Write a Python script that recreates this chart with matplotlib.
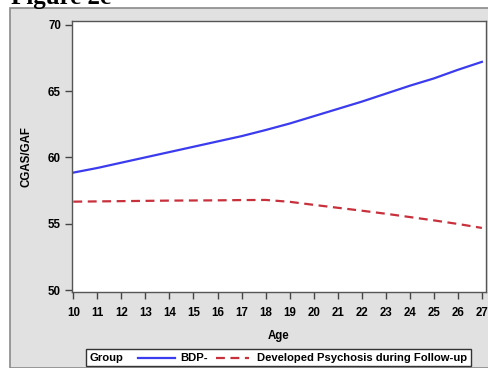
import matplotlib
matplotlib.use("Agg")
import matplotlib.pyplot as plt
from matplotlib.patches import Rectangle
from matplotlib.lines import Line2D

# values
ages = [10, 11, 12, 13, 14, 15, 16, 17, 18, 19, 20, 21, 22, 23, 24, 25, 26, 27]
bdp_neg = [58.85, 59.2, 59.6, 60.0, 60.4, 60.8, 61.2, 61.6, 62.06, 62.55,
           63.1, 63.65, 64.2, 64.8, 65.4, 65.95, 66.6, 67.2]
psychosis = [56.66, 56.68, 56.7, 56.72, 56.74, 56.75, 56.76, 56.78, 56.79, 56.65,
             56.42, 56.2, 55.98, 55.75, 55.5, 55.25, 54.98, 54.68]
yticks = [50, 55, 60, 65, 70]

W, H = 488, 368
fig = plt.figure(figsize=(W / 100, H / 100), dpi=100)
fig.patch.set_facecolor("white")

def fx(px):
    return px / W

def fy(py):
    return 1 - py / H

# grey SAS panel, clipped by the figure edge
panel = Rectangle((fx(10), 0), 1, fy(8), transform=fig.transFigure,
                  facecolor="#e1e1e1", edgecolor="#8a8a8a", lw=1.2, zorder=-10)
fig.patches.append(panel)

fig.text(fx(11), fy(4), "Figure 2c", family="Liberation Serif",
         weight="bold", fontsize=18, va="baseline", ha="left")

ax = fig.add_axes([fx(72), fy(292), fx(486) - fx(72), fy(21) - fy(292)])
ax.set_facecolor("white")
ax.plot(ages, bdp_neg, color="#3b3bf0", lw=1.6)
ax.plot(ages, psychosis, color="#c8303c", lw=1.6, dashes=(4, 2.5))

ax.set_xlim(9.945, 27.17)
ax.set_ylim(49.85, 70.28)
ax.set_xticks(ages)
ax.set_yticks(yticks)
for s in ax.spines.values():
    s.set_color("#555555")
    s.set_linewidth(1.0)
ax.tick_params(direction="out", length=5, width=1, color="#444444",
               labelsize=8.3, pad=3)
for lab in ax.get_xticklabels() + ax.get_yticklabels():
    lab.set_family("Liberation Sans")
    lab.set_weight("bold")
ax.tick_params(axis="x", pad=6)

ax.set_xlabel("Age", family="Liberation Sans", weight="bold", fontsize=8.3,
              labelpad=8)
fig.text(fx(27), fy(157), "CGAS/GAF", family="Liberation Sans", weight="bold",
         fontsize=8.3, rotation=90, ha="center", va="center")

# legend box
leg = Rectangle((fx(86), fy(366)), fx(471) - fx(86), fy(349) - fy(366),
                transform=fig.transFigure, facecolor="white",
                edgecolor="#333333", lw=1.0, zorder=3)
fig.patches.append(leg)
ly = fy(358)
tkw = dict(family="Liberation Sans", weight="bold", fontsize=8.1,
           va="center", ha="left", zorder=4)
fig.text(fx(90), ly, "Group", **tkw)
fig.lines.append(Line2D([fx(138), fx(175)], [ly, ly], transform=fig.transFigure,
                        color="#3b3bf0", lw=1.6, zorder=4))
fig.text(fx(180), ly, "BDP-", **tkw)
fig.lines.append(Line2D([fx(216), fx(249)], [ly, ly], transform=fig.transFigure,
                        color="#c8303c", lw=1.6, dashes=(4, 2.5), zorder=4))
fig.text(fx(257), ly, "Developed Psychosis during Follow-up", **tkw)

fig.savefig("out.png", dpi=100)
